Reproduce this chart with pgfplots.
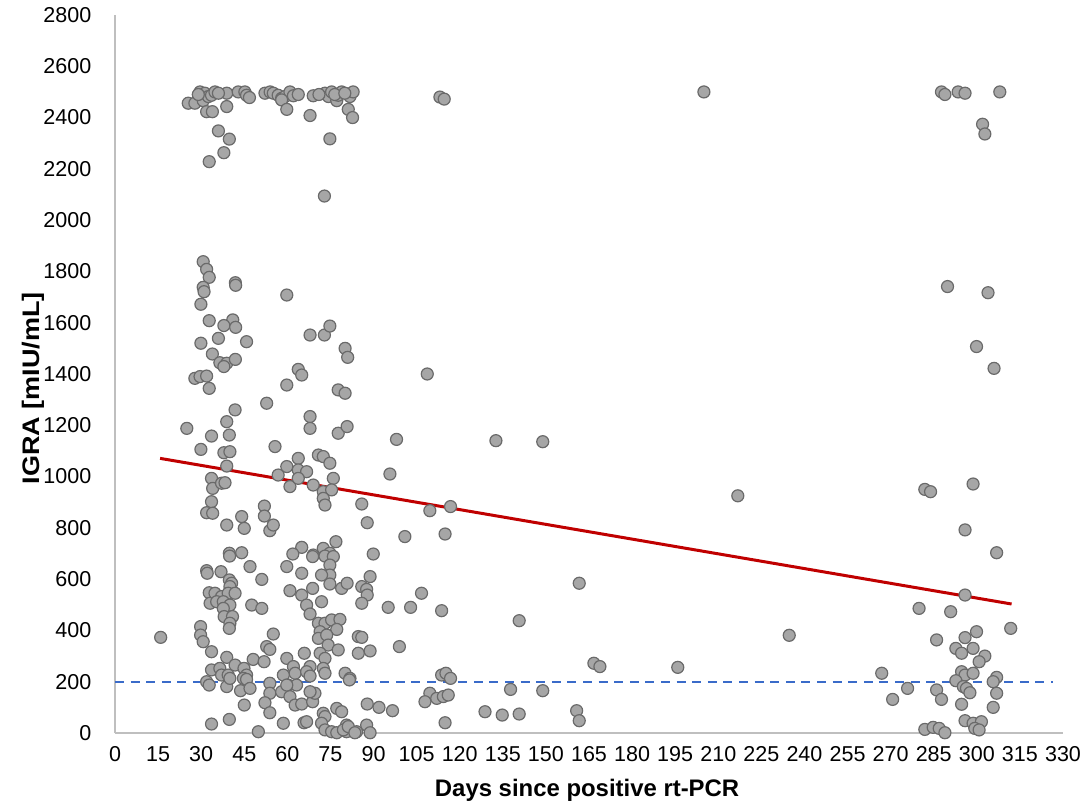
\documentclass[border=0pt]{standalone}
\usepackage{fontspec}
\setmainfont{Liberation Sans}
\usepackage{pgfplots}
\pgfplotsset{compat=1.18}
\definecolor{ptfill}{HTML}{A6A6A6}
\definecolor{ptedge}{HTML}{6A6A6A}
\definecolor{trend}{HTML}{C00000}
\definecolor{cut}{HTML}{3A6BC9}
\definecolor{axgray}{HTML}{BFBFBF}
\pgfplotstableread{
x y
25.5 2456
27.8 2456
29.6 2500
30.7 2466
31.3 2495
32.5 2482
33.6 2487
34.8 2500
31.9 2423
33.9 2423
38.9 2495
38.9 2443
42.9 2500
45.2 2500
45.8 2487
46.8 2478
36.0 2348
39.8 2316
37.9 2263
32.8 2228
52.2 2495
54.0 2500
55.1 2495
56.8 2487
58.0 2475
59.2 2482
60.9 2500
58.0 2469
59.8 2432
62.1 2485
63.8 2490
69.0 2485
67.9 2408
73.1 2495
74.3 2482
75.4 2500
77.2 2466
77.7 2487
78.9 2500
81.8 2482
82.9 2500
81.2 2432
82.7 2400
74.8 2317
29.0 2490
36.0 2495
71.0 2490
76.5 2490
80.0 2495
113.1 2480
114.6 2472
205.0 2500
72.9 2094
30.7 1838
31.9 1808
32.8 1777
30.7 1738
31.0 1721
29.9 1672
41.9 1756
42.0 1746
59.8 1708
32.8 1608
41.0 1611
37.9 1589
42.0 1582
36.0 1539
45.8 1526
29.9 1520
33.9 1478
36.5 1444
38.9 1442
41.9 1457
37.9 1429
63.8 1418
67.9 1552
72.9 1552
74.8 1587
80.1 1500
81.0 1465
27.8 1383
29.6 1390
31.9 1392
32.8 1344
59.8 1357
65.0 1396
77.7 1338
80.1 1325
52.8 1286
41.8 1260
38.9 1214
25.0 1188
33.6 1158
39.8 1162
67.9 1234
67.9 1188
77.7 1169
80.8 1195
29.9 1106
37.9 1093
40.0 1097
55.7 1117
38.9 1041
33.6 993
34.0 954
37.1 974
38.3 976
33.6 902
31.9 859
34.0 857
38.9 811
44.1 844
45.0 798
39.8 701
44.1 703
63.8 1071
59.8 1039
56.8 1006
60.9 961
63.8 1026
66.7 1019
63.8 993
70.8 1084
72.5 1078
74.8 1052
76.0 993
69.0 967
72.5 941
75.4 948
72.5 915
73.1 889
85.9 893
87.8 820
52.0 885
52.0 846
53.9 789
55.1 811
65.0 724
61.9 698
69.0 694
72.5 720
76.9 746
89.9 698
74.8 701
39.9 690
47.0 649
51.1 599
31.9 633
32.1 623
36.9 629
39.8 597
40.6 584
40.0 571
32.8 547
33.1 506
34.8 545
37.1 532
39.4 545
41.8 545
35.4 512
37.7 512
40.0 499
37.7 486
38.0 454
40.9 454
40.0 428
39.8 408
47.6 499
51.1 486
59.8 649
65.0 623
68.8 688
73.1 690
76.0 688
74.8 655
74.8 616
71.9 616
60.9 555
65.0 538
68.8 564
74.8 581
78.9 564
80.8 584
85.9 571
87.6 560
87.8 538
85.9 506
88.8 610
66.7 499
67.9 464
71.9 512
70.8 428
73.1 428
75.4 441
78.3 443
77.2 404
71.4 395
70.8 369
73.7 382
74.2 343
77.7 324
84.7 376
85.9 373
84.7 311
88.8 320
71.4 311
73.1 291
72.5 252
73.1 233
65.9 311
59.8 291
62.1 259
62.7 233
67.9 259
66.7 239
58.6 226
60.3 187
63.2 187
67.9 222
80.1 233
81.8 213
81.6 207
29.8 415
29.8 382
30.7 356
33.6 317
15.9 373
55.1 386
52.8 337
53.9 326
48.1 287
51.9 278
38.9 295
41.8 265
44.9 252
45.8 226
33.6 246
36.5 252
37.1 226
31.9 200
32.8 187
38.9 181
39.4 226
40.0 213
44.7 213
45.8 209
43.7 165
47.0 174
53.9 194
53.9 155
58.0 161
60.9 142
59.8 187
62.7 109
65.0 113
68.8 122
69.6 155
67.9 161
52.2 118
53.9 79
45.0 109
33.6 35
39.8 53
49.9 5
58.6 38
65.8 40
66.7 44
72.5 77
73.1 64
77.2 96
78.9 83
71.9 38
73.1 12
75.4 5
77.2 1
80.6 31
80.6 5
84.1 5
87.6 31
88.8 1
87.8 113
91.9 100
96.6 87
79.5 12
81.2 25
83.5 1
108.7 1400
98.0 1145
132.6 1140
148.9 1136
95.7 1010
109.6 867
116.8 883
100.9 766
114.9 776
95.1 490
102.9 490
106.7 545
113.7 477
161.6 584
140.7 438
99.0 337
166.7 272
168.8 259
113.7 226
115.2 233
116.8 213
137.7 170
148.9 165
109.6 155
107.9 122
112.0 135
114.3 142
116.0 148
128.8 83
134.8 70
140.7 74
160.7 87
161.6 48
114.9 40
216.8 925
195.9 256
234.7 381
287.7 2500
288.9 2490
293.5 2500
295.9 2495
308.0 2500
302.0 2374
302.8 2336
289.8 1741
303.9 1717
299.9 1507
306.0 1422
281.9 950
283.9 941
298.7 971
295.9 792
306.9 703
295.9 538
279.9 486
290.9 473
311.8 408
299.9 395
286.0 363
295.9 372
292.7 330
294.7 311
298.7 330
302.8 300
300.8 278
266.9 233
294.7 239
295.9 226
298.7 233
292.7 204
306.9 217
305.7 200
295.3 181
296.4 174
297.6 157
275.9 174
286.0 168
287.7 131
270.7 131
306.9 155
294.7 112
305.7 100
295.9 48
298.7 38
301.6 44
299.3 18
300.8 12
281.9 14
284.8 22
286.9 18
288.9 1
}\igra
\begin{document}
\begin{tikzpicture}
\useasboundingbox (-57.5bp,-39bp) rectangle (484.5bp,366.5bp);
\begin{axis}[
  scale only axis, width=474bp, height=359bp,
  xmin=0, xmax=330, ymin=0, ymax=2800,
  xtick={0,15,...,330}, ytick={0,200,...,2800},
  axis lines*=left,
  axis line style={axgray, line width=0.8bp, -},
  major tick length=0pt,
  tick label style={font=\fontsize{10.8}{12}\selectfont, text=black},
  /pgf/number format/assume math mode=true,
  /pgf/number format/1000 sep={},
  xticklabel style={anchor=center, yshift=-10.5bp},
  yticklabel style={anchor=east, xshift=-8.3bp},
  xlabel={Days since positive rt-PCR},
  ylabel={\scalebox{1.13}[1]{IGRA [mIU/mL]}},
  label style={font=\fontsize{12}{14}\selectfont\bfseries},
  xlabel style={at={(axis description cs:0.498,-0.0794)}, anchor=center},
  ylabel style={at={(axis description cs:-0.0865,0.48)}, anchor=center},
  clip=false,
]
\addplot[only marks, mark=*, mark size=3bp,
  mark options={fill=ptfill, draw=ptedge, line width=0.6bp}] table[x=x,y=y] {\igra};
\addplot[cut, line width=1bp, dash pattern=on 4.5bp off 3.3bp] coordinates {(0,200) (326.5,200)};
\addplot[trend, line width=1.5bp] coordinates {(15.7,1071) (312.1,503)};
\end{axis}
\end{tikzpicture}
\end{document}
